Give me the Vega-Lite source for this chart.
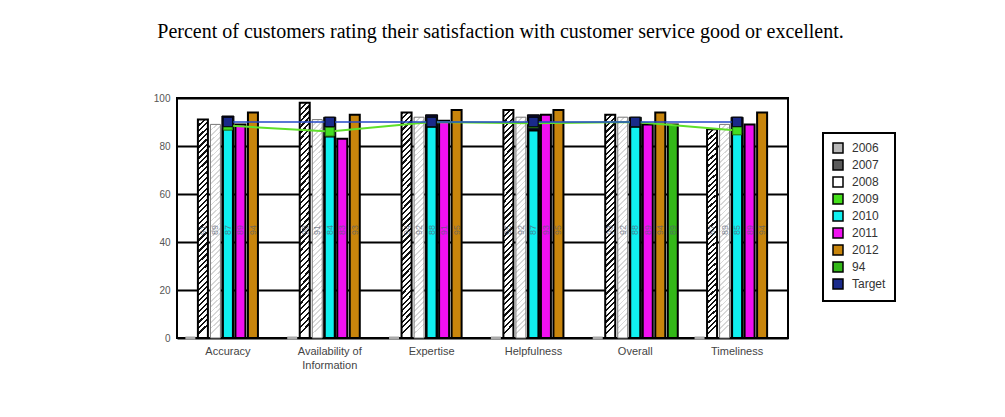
{
  "$schema": "https://vega.github.io/schema/vega-lite/v6.json",
  "width": 611,
  "height": 240,
  "autosize": "none",
  "padding": {"left": 177, "top": 98, "right": 217, "bottom": 79},
  "background": "white",
  "title": {
    "text": "Percent of customers rating their satisfaction with customer service good or excellent.",
    "font": "Liberation Serif",
    "fontSize": 20,
    "fontWeight": "normal",
    "color": "#000000",
    "offset": 51,
    "dx": 18
  },
  "config": {
    "font": "Liberation Sans",
    "view": {"stroke": "#000000", "strokeWidth": 2},
    "axis": {"title": null, "ticks": false, "domain": false},
    "legend": {"strokeWidth": 2}
  },
  "data": {
    "values": [
      {"cat": "Accuracy", "series": "2006", "value": 0},
      {"cat": "Availability of Information", "series": "2006", "value": 0},
      {"cat": "Expertise", "series": "2006", "value": 0},
      {"cat": "Helpfulness", "series": "2006", "value": 0},
      {"cat": "Overall", "series": "2006", "value": 0},
      {"cat": "Timeliness", "series": "2006", "value": 0},
      {"cat": "Accuracy", "series": "2007", "value": 91},
      {"cat": "Availability of Information", "series": "2007", "value": 98},
      {"cat": "Expertise", "series": "2007", "value": 94},
      {"cat": "Helpfulness", "series": "2007", "value": 95},
      {"cat": "Overall", "series": "2007", "value": 93},
      {"cat": "Timeliness", "series": "2007", "value": 87},
      {"cat": "Accuracy", "series": "2008", "value": 89},
      {"cat": "Availability of Information", "series": "2008", "value": 91},
      {"cat": "Expertise", "series": "2008", "value": 92},
      {"cat": "Helpfulness", "series": "2008", "value": 92},
      {"cat": "Overall", "series": "2008", "value": 92},
      {"cat": "Timeliness", "series": "2008", "value": 89},
      {"cat": "Accuracy", "series": "2009", "value": 88.5},
      {"cat": "Availability of Information", "series": "2009", "value": 86},
      {"cat": "Expertise", "series": "2009", "value": 90},
      {"cat": "Helpfulness", "series": "2009", "value": 89.5},
      {"cat": "Overall", "series": "2009", "value": 90},
      {"cat": "Timeliness", "series": "2009", "value": 86.5},
      {"cat": "Accuracy", "series": "2010", "value": 87},
      {"cat": "Availability of Information", "series": "2010", "value": 84},
      {"cat": "Expertise", "series": "2010", "value": 88},
      {"cat": "Helpfulness", "series": "2010", "value": 86.5},
      {"cat": "Overall", "series": "2010", "value": 88},
      {"cat": "Timeliness", "series": "2010", "value": 85},
      {"cat": "Accuracy", "series": "2011", "value": 89},
      {"cat": "Availability of Information", "series": "2011", "value": 83},
      {"cat": "Expertise", "series": "2011", "value": 90.5},
      {"cat": "Helpfulness", "series": "2011", "value": 93},
      {"cat": "Overall", "series": "2011", "value": 89},
      {"cat": "Timeliness", "series": "2011", "value": 89},
      {"cat": "Accuracy", "series": "2012", "value": 94},
      {"cat": "Availability of Information", "series": "2012", "value": 93},
      {"cat": "Expertise", "series": "2012", "value": 95},
      {"cat": "Helpfulness", "series": "2012", "value": 95},
      {"cat": "Overall", "series": "2012", "value": 94},
      {"cat": "Timeliness", "series": "2012", "value": 94},
      {"cat": "Overall", "series": "94", "value": 89},
      {"cat": "Accuracy", "series": "Target", "value": 90},
      {"cat": "Availability of Information", "series": "Target", "value": 90},
      {"cat": "Expertise", "series": "Target", "value": 90},
      {"cat": "Helpfulness", "series": "Target", "value": 90},
      {"cat": "Overall", "series": "Target", "value": 90},
      {"cat": "Timeliness", "series": "Target", "value": 90},
      {"cat": "Accuracy", "series": "Back", "value": 92.5},
      {"cat": "Availability of Information", "series": "Back", "value": 92},
      {"cat": "Expertise", "series": "Back", "value": 93},
      {"cat": "Helpfulness", "series": "Back", "value": 93},
      {"cat": "Overall", "series": "Back", "value": 92},
      {"cat": "Timeliness", "series": "Back", "value": 92}
    ]
  },
  "encoding": {
    "x": {
      "field": "cat",
      "type": "nominal",
      "scale": {"paddingInner": 0, "paddingOuter": 0},
      "axis": {
        "labelAngle": 0,
        "labelColor": "#444444",
        "labelFontSize": 11,
        "labelPadding": 7,
        "labelLineHeight": 14,
        "labelExpr": "datum.label == 'Availability of Information' ? ['Availability of', 'Information'] : datum.label"
      }
    },
    "y": {
      "field": "value",
      "type": "quantitative",
      "scale": {"domain": [0, 100], "nice": false},
      "axis": {
        "values": [0, 20, 40, 60, 80, 100],
        "grid": true,
        "gridColor": "#000000",
        "gridWidth": 2,
        "gridOpacity": 1,
        "labelColor": "#555555",
        "labelFontSize": 10,
        "labelPadding": 7
      }
    }
  },
  "layer": [
    {
      "transform": [{"filter": "datum.series == 'Back'"}],
      "mark": {"type": "bar", "width": 12, "fill": "#0b0b2a", "stroke": "#000000", "strokeWidth": 1}
    },
    {
      "transform": [{"filter": "datum.series == '2006'"}],
      "mark": {"type": "bar", "fill": "#aaaaaa", "stroke": "#aaaaaa", "strokeWidth": 3},
      "encoding": {
        "xOffset": {"field": "series", "type": "nominal", "scale": {"domain": ["2006", "2007", "2008", "2010", "2011", "2012", "94"], "paddingInner": 0.2, "paddingOuter": 0.67}}
      }
    },
    {
      "transform": [{"filter": "datum.series == '2007'"}],
      "mark": {
        "type": "bar",
        "stroke": "#000000",
        "strokeWidth": 2,
        "fill": {
          "gradient": "linear", "x1": 0, "y1": 0, "x2": 0.045, "y2": 1,
          "stops": [
            {"offset":0,"color":"#111"},{"offset":0.01,"color":"#111"},{"offset":0.01,"color":"#fff"},{"offset":0.025,"color":"#fff"},
            {"offset":0.025,"color":"#111"},{"offset":0.035,"color":"#111"},{"offset":0.035,"color":"#fff"},{"offset":0.05,"color":"#fff"},
            {"offset":0.05,"color":"#111"},{"offset":0.06,"color":"#111"},{"offset":0.06,"color":"#fff"},{"offset":0.075,"color":"#fff"},
            {"offset":0.075,"color":"#111"},{"offset":0.085,"color":"#111"},{"offset":0.085,"color":"#fff"},{"offset":0.1,"color":"#fff"},
            {"offset":0.1,"color":"#111"},{"offset":0.11,"color":"#111"},{"offset":0.11,"color":"#fff"},{"offset":0.125,"color":"#fff"},
            {"offset":0.125,"color":"#111"},{"offset":0.135,"color":"#111"},{"offset":0.135,"color":"#fff"},{"offset":0.15,"color":"#fff"},
            {"offset":0.15,"color":"#111"},{"offset":0.16,"color":"#111"},{"offset":0.16,"color":"#fff"},{"offset":0.175,"color":"#fff"},
            {"offset":0.175,"color":"#111"},{"offset":0.185,"color":"#111"},{"offset":0.185,"color":"#fff"},{"offset":0.2,"color":"#fff"},
            {"offset":0.2,"color":"#111"},{"offset":0.21,"color":"#111"},{"offset":0.21,"color":"#fff"},{"offset":0.225,"color":"#fff"},
            {"offset":0.225,"color":"#111"},{"offset":0.235,"color":"#111"},{"offset":0.235,"color":"#fff"},{"offset":0.25,"color":"#fff"},
            {"offset":0.25,"color":"#111"},{"offset":0.26,"color":"#111"},{"offset":0.26,"color":"#fff"},{"offset":0.275,"color":"#fff"},
            {"offset":0.275,"color":"#111"},{"offset":0.285,"color":"#111"},{"offset":0.285,"color":"#fff"},{"offset":0.3,"color":"#fff"},
            {"offset":0.3,"color":"#111"},{"offset":0.31,"color":"#111"},{"offset":0.31,"color":"#fff"},{"offset":0.325,"color":"#fff"},
            {"offset":0.325,"color":"#111"},{"offset":0.335,"color":"#111"},{"offset":0.335,"color":"#fff"},{"offset":0.35,"color":"#fff"},
            {"offset":0.35,"color":"#111"},{"offset":0.36,"color":"#111"},{"offset":0.36,"color":"#fff"},{"offset":0.375,"color":"#fff"},
            {"offset":0.375,"color":"#111"},{"offset":0.385,"color":"#111"},{"offset":0.385,"color":"#fff"},{"offset":0.4,"color":"#fff"},
            {"offset":0.4,"color":"#111"},{"offset":0.41,"color":"#111"},{"offset":0.41,"color":"#fff"},{"offset":0.425,"color":"#fff"},
            {"offset":0.425,"color":"#111"},{"offset":0.435,"color":"#111"},{"offset":0.435,"color":"#fff"},{"offset":0.45,"color":"#fff"},
            {"offset":0.45,"color":"#111"},{"offset":0.46,"color":"#111"},{"offset":0.46,"color":"#fff"},{"offset":0.475,"color":"#fff"},
            {"offset":0.475,"color":"#111"},{"offset":0.485,"color":"#111"},{"offset":0.485,"color":"#fff"},{"offset":0.5,"color":"#fff"},
            {"offset":0.5,"color":"#111"},{"offset":0.51,"color":"#111"},{"offset":0.51,"color":"#fff"},{"offset":0.525,"color":"#fff"},
            {"offset":0.525,"color":"#111"},{"offset":0.535,"color":"#111"},{"offset":0.535,"color":"#fff"},{"offset":0.55,"color":"#fff"},
            {"offset":0.55,"color":"#111"},{"offset":0.56,"color":"#111"},{"offset":0.56,"color":"#fff"},{"offset":0.575,"color":"#fff"},
            {"offset":0.575,"color":"#111"},{"offset":0.585,"color":"#111"},{"offset":0.585,"color":"#fff"},{"offset":0.6,"color":"#fff"},
            {"offset":0.6,"color":"#111"},{"offset":0.61,"color":"#111"},{"offset":0.61,"color":"#fff"},{"offset":0.625,"color":"#fff"},
            {"offset":0.625,"color":"#111"},{"offset":0.635,"color":"#111"},{"offset":0.635,"color":"#fff"},{"offset":0.65,"color":"#fff"},
            {"offset":0.65,"color":"#111"},{"offset":0.66,"color":"#111"},{"offset":0.66,"color":"#fff"},{"offset":0.675,"color":"#fff"},
            {"offset":0.675,"color":"#111"},{"offset":0.685,"color":"#111"},{"offset":0.685,"color":"#fff"},{"offset":0.7,"color":"#fff"},
            {"offset":0.7,"color":"#111"},{"offset":0.71,"color":"#111"},{"offset":0.71,"color":"#fff"},{"offset":0.725,"color":"#fff"},
            {"offset":0.725,"color":"#111"},{"offset":0.735,"color":"#111"},{"offset":0.735,"color":"#fff"},{"offset":0.75,"color":"#fff"},
            {"offset":0.75,"color":"#111"},{"offset":0.76,"color":"#111"},{"offset":0.76,"color":"#fff"},{"offset":0.775,"color":"#fff"},
            {"offset":0.775,"color":"#111"},{"offset":0.785,"color":"#111"},{"offset":0.785,"color":"#fff"},{"offset":0.8,"color":"#fff"},
            {"offset":0.8,"color":"#111"},{"offset":0.81,"color":"#111"},{"offset":0.81,"color":"#fff"},{"offset":0.825,"color":"#fff"},
            {"offset":0.825,"color":"#111"},{"offset":0.835,"color":"#111"},{"offset":0.835,"color":"#fff"},{"offset":0.85,"color":"#fff"},
            {"offset":0.85,"color":"#111"},{"offset":0.86,"color":"#111"},{"offset":0.86,"color":"#fff"},{"offset":0.875,"color":"#fff"},
            {"offset":0.875,"color":"#111"},{"offset":0.885,"color":"#111"},{"offset":0.885,"color":"#fff"},{"offset":0.9,"color":"#fff"},
            {"offset":0.9,"color":"#111"},{"offset":0.91,"color":"#111"},{"offset":0.91,"color":"#fff"},{"offset":0.925,"color":"#fff"},
            {"offset":0.925,"color":"#111"},{"offset":0.935,"color":"#111"},{"offset":0.935,"color":"#fff"},{"offset":0.95,"color":"#fff"},
            {"offset":0.95,"color":"#111"},{"offset":0.96,"color":"#111"},{"offset":0.96,"color":"#fff"},{"offset":0.975,"color":"#fff"},
            {"offset":0.975,"color":"#111"},{"offset":0.985,"color":"#111"},{"offset":0.985,"color":"#fff"},{"offset":1,"color":"#fff"}
          ]
        }
      },
      "encoding": {
        "xOffset": {"field": "series", "type": "nominal", "scale": {"domain": ["2006", "2007", "2008", "2010", "2011", "2012", "94"], "paddingInner": 0.2, "paddingOuter": 0.67}}
      }
    },
    {
      "transform": [{"filter": "datum.series == '2008'"}],
      "mark": {
        "type": "bar",
        "stroke": "#777777",
        "strokeWidth": 1,
        "fill": {
          "gradient": "linear", "x1": 0, "y1": 0, "x2": 0.045, "y2": 1,
          "stops": [
            {"offset":0,"color":"#d8d8d8"},{"offset":0.008,"color":"#d8d8d8"},{"offset":0.008,"color":"#fff"},{"offset":0.025,"color":"#fff"},
            {"offset":0.025,"color":"#d8d8d8"},{"offset":0.033,"color":"#d8d8d8"},{"offset":0.033,"color":"#fff"},{"offset":0.05,"color":"#fff"},
            {"offset":0.05,"color":"#d8d8d8"},{"offset":0.058,"color":"#d8d8d8"},{"offset":0.058,"color":"#fff"},{"offset":0.075,"color":"#fff"},
            {"offset":0.075,"color":"#d8d8d8"},{"offset":0.083,"color":"#d8d8d8"},{"offset":0.083,"color":"#fff"},{"offset":0.1,"color":"#fff"},
            {"offset":0.1,"color":"#d8d8d8"},{"offset":0.108,"color":"#d8d8d8"},{"offset":0.108,"color":"#fff"},{"offset":0.125,"color":"#fff"},
            {"offset":0.125,"color":"#d8d8d8"},{"offset":0.133,"color":"#d8d8d8"},{"offset":0.133,"color":"#fff"},{"offset":0.15,"color":"#fff"},
            {"offset":0.15,"color":"#d8d8d8"},{"offset":0.158,"color":"#d8d8d8"},{"offset":0.158,"color":"#fff"},{"offset":0.175,"color":"#fff"},
            {"offset":0.175,"color":"#d8d8d8"},{"offset":0.183,"color":"#d8d8d8"},{"offset":0.183,"color":"#fff"},{"offset":0.2,"color":"#fff"},
            {"offset":0.2,"color":"#d8d8d8"},{"offset":0.208,"color":"#d8d8d8"},{"offset":0.208,"color":"#fff"},{"offset":0.225,"color":"#fff"},
            {"offset":0.225,"color":"#d8d8d8"},{"offset":0.233,"color":"#d8d8d8"},{"offset":0.233,"color":"#fff"},{"offset":0.25,"color":"#fff"},
            {"offset":0.25,"color":"#d8d8d8"},{"offset":0.258,"color":"#d8d8d8"},{"offset":0.258,"color":"#fff"},{"offset":0.275,"color":"#fff"},
            {"offset":0.275,"color":"#d8d8d8"},{"offset":0.283,"color":"#d8d8d8"},{"offset":0.283,"color":"#fff"},{"offset":0.3,"color":"#fff"},
            {"offset":0.3,"color":"#d8d8d8"},{"offset":0.308,"color":"#d8d8d8"},{"offset":0.308,"color":"#fff"},{"offset":0.325,"color":"#fff"},
            {"offset":0.325,"color":"#d8d8d8"},{"offset":0.333,"color":"#d8d8d8"},{"offset":0.333,"color":"#fff"},{"offset":0.35,"color":"#fff"},
            {"offset":0.35,"color":"#d8d8d8"},{"offset":0.358,"color":"#d8d8d8"},{"offset":0.358,"color":"#fff"},{"offset":0.375,"color":"#fff"},
            {"offset":0.375,"color":"#d8d8d8"},{"offset":0.383,"color":"#d8d8d8"},{"offset":0.383,"color":"#fff"},{"offset":0.4,"color":"#fff"},
            {"offset":0.4,"color":"#d8d8d8"},{"offset":0.408,"color":"#d8d8d8"},{"offset":0.408,"color":"#fff"},{"offset":0.425,"color":"#fff"},
            {"offset":0.425,"color":"#d8d8d8"},{"offset":0.433,"color":"#d8d8d8"},{"offset":0.433,"color":"#fff"},{"offset":0.45,"color":"#fff"},
            {"offset":0.45,"color":"#d8d8d8"},{"offset":0.458,"color":"#d8d8d8"},{"offset":0.458,"color":"#fff"},{"offset":0.475,"color":"#fff"},
            {"offset":0.475,"color":"#d8d8d8"},{"offset":0.483,"color":"#d8d8d8"},{"offset":0.483,"color":"#fff"},{"offset":0.5,"color":"#fff"},
            {"offset":0.5,"color":"#d8d8d8"},{"offset":0.508,"color":"#d8d8d8"},{"offset":0.508,"color":"#fff"},{"offset":0.525,"color":"#fff"},
            {"offset":0.525,"color":"#d8d8d8"},{"offset":0.533,"color":"#d8d8d8"},{"offset":0.533,"color":"#fff"},{"offset":0.55,"color":"#fff"},
            {"offset":0.55,"color":"#d8d8d8"},{"offset":0.558,"color":"#d8d8d8"},{"offset":0.558,"color":"#fff"},{"offset":0.575,"color":"#fff"},
            {"offset":0.575,"color":"#d8d8d8"},{"offset":0.583,"color":"#d8d8d8"},{"offset":0.583,"color":"#fff"},{"offset":0.6,"color":"#fff"},
            {"offset":0.6,"color":"#d8d8d8"},{"offset":0.608,"color":"#d8d8d8"},{"offset":0.608,"color":"#fff"},{"offset":0.625,"color":"#fff"},
            {"offset":0.625,"color":"#d8d8d8"},{"offset":0.633,"color":"#d8d8d8"},{"offset":0.633,"color":"#fff"},{"offset":0.65,"color":"#fff"},
            {"offset":0.65,"color":"#d8d8d8"},{"offset":0.658,"color":"#d8d8d8"},{"offset":0.658,"color":"#fff"},{"offset":0.675,"color":"#fff"},
            {"offset":0.675,"color":"#d8d8d8"},{"offset":0.683,"color":"#d8d8d8"},{"offset":0.683,"color":"#fff"},{"offset":0.7,"color":"#fff"},
            {"offset":0.7,"color":"#d8d8d8"},{"offset":0.708,"color":"#d8d8d8"},{"offset":0.708,"color":"#fff"},{"offset":0.725,"color":"#fff"},
            {"offset":0.725,"color":"#d8d8d8"},{"offset":0.733,"color":"#d8d8d8"},{"offset":0.733,"color":"#fff"},{"offset":0.75,"color":"#fff"},
            {"offset":0.75,"color":"#d8d8d8"},{"offset":0.758,"color":"#d8d8d8"},{"offset":0.758,"color":"#fff"},{"offset":0.775,"color":"#fff"},
            {"offset":0.775,"color":"#d8d8d8"},{"offset":0.783,"color":"#d8d8d8"},{"offset":0.783,"color":"#fff"},{"offset":0.8,"color":"#fff"},
            {"offset":0.8,"color":"#d8d8d8"},{"offset":0.808,"color":"#d8d8d8"},{"offset":0.808,"color":"#fff"},{"offset":0.825,"color":"#fff"},
            {"offset":0.825,"color":"#d8d8d8"},{"offset":0.833,"color":"#d8d8d8"},{"offset":0.833,"color":"#fff"},{"offset":0.85,"color":"#fff"},
            {"offset":0.85,"color":"#d8d8d8"},{"offset":0.858,"color":"#d8d8d8"},{"offset":0.858,"color":"#fff"},{"offset":0.875,"color":"#fff"},
            {"offset":0.875,"color":"#d8d8d8"},{"offset":0.883,"color":"#d8d8d8"},{"offset":0.883,"color":"#fff"},{"offset":0.9,"color":"#fff"},
            {"offset":0.9,"color":"#d8d8d8"},{"offset":0.908,"color":"#d8d8d8"},{"offset":0.908,"color":"#fff"},{"offset":0.925,"color":"#fff"},
            {"offset":0.925,"color":"#d8d8d8"},{"offset":0.933,"color":"#d8d8d8"},{"offset":0.933,"color":"#fff"},{"offset":0.95,"color":"#fff"},
            {"offset":0.95,"color":"#d8d8d8"},{"offset":0.958,"color":"#d8d8d8"},{"offset":0.958,"color":"#fff"},{"offset":0.975,"color":"#fff"},
            {"offset":0.975,"color":"#d8d8d8"},{"offset":0.983,"color":"#d8d8d8"},{"offset":0.983,"color":"#fff"},{"offset":1,"color":"#fff"}
          ]
        }
      },
      "encoding": {
        "xOffset": {"field": "series", "type": "nominal", "scale": {"domain": ["2006", "2007", "2008", "2010", "2011", "2012", "94"], "paddingInner": 0.2, "paddingOuter": 0.67}}
      }
    },
    {
      "transform": [{"filter": "indexof(['2010','2011','2012','94'], datum.series) >= 0"}],
      "mark": {"type": "bar", "stroke": "#000000", "strokeWidth": 2},
      "encoding": {
        "xOffset": {"field": "series", "type": "nominal", "scale": {"domain": ["2006", "2007", "2008", "2010", "2011", "2012", "94"], "paddingInner": 0.2, "paddingOuter": 0.67}},
        "fill": {
          "field": "series",
          "type": "nominal",
          "scale": {
            "domain": ["2006", "2007", "2008", "2009", "2010", "2011", "2012", "94", "Target"],
            "range": ["#b8b8b8", "#5a5a5a", "#ffffff", "#44e01a", "#10f0f0", "#f010f0", "#c8850c", "#33b818", "#1a2a8a"]
          },
          "legend": {
            "title": null,
            "orient": "none",
            "legendX": 646,
            "legendY": 35,
            "symbolType": "square",
            "symbolSize": 100,
            "symbolStrokeColor": "#000000",
            "symbolStrokeWidth": 1.5,
            "labelFontSize": 12,
            "labelColor": "#333333",
            "labelOffset": 8,
            "strokeColor": "#000000",
            "padding": 9,
            "rowPadding": 1
          }
        }
      }
    },
    {
      "transform": [{"filter": "indexof(['2007','2008','2010','2011','2012','94'], datum.series) >= 0"}],
      "mark": {"type": "text", "angle": 270, "fontSize": 9, "color": "#556070", "opacity": 0.75},
      "encoding": {
        "xOffset": {"field": "series", "type": "nominal", "scale": {"domain": ["2006", "2007", "2008", "2010", "2011", "2012", "94"], "paddingInner": 0.2, "paddingOuter": 0.67}},
        "y": {"datum": 45, "type": "quantitative"},
        "text": {"field": "value", "type": "quantitative", "format": ".0f"}
      }
    },
    {
      "transform": [{"filter": "datum.series == '2009'"}],
      "mark": {"type": "line", "color": "#5fe02a", "strokeWidth": 2}
    },
    {
      "transform": [{"filter": "datum.series == '2009'"}],
      "mark": {"type": "point", "shape": "square", "size": 80, "filled": true, "fill": "#44dd22", "stroke": "#2a7a10", "strokeWidth": 1, "opacity": 1}
    },
    {
      "transform": [{"filter": "datum.series == 'Target'"}],
      "mark": {"type": "line", "color": "#2448c8", "strokeWidth": 1.5}
    },
    {
      "transform": [{"filter": "datum.series == 'Target'"}],
      "mark": {"type": "point", "shape": "square", "size": 90, "filled": true, "fill": "#1a2a8a", "stroke": "#000000", "strokeWidth": 1, "opacity": 1}
    }
  ]
}
